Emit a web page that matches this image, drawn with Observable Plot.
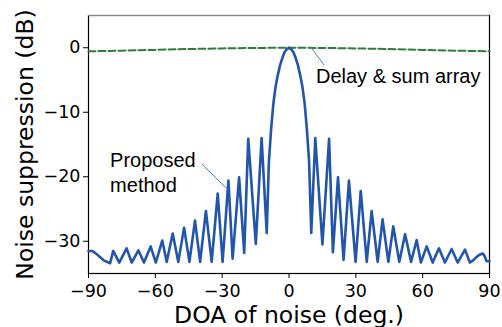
<!DOCTYPE html>
<html><head><meta charset="utf-8">
<script src="https://cdn.jsdelivr.net/npm/d3@7"></script>
<script src="https://cdn.jsdelivr.net/npm/@observablehq/plot@0.6"></script>
<style>body{margin:0;background:#fff;} svg{display:block;}</style>
</head><body><div id="chart"></div>
<script>
// Proposed method: DOA (deg) and suppression (dB)
const proposedDeg = [-90, -88.5, -87, -85, -83, -81, -80.3, -78.9, -76.2, -72.9, -70.6, -67.6, -65.1, -62.1, -59.8,
  -56.9, -54.9, -52.2, -49.7, -47.1, -44.7, -42.2, -39.9, -37.3, -34.7, -32.0, -29.8, -27.2, -25.3, -22.4,
  -20.1, -18.3, -14.9, -12.3, -10.0, -9, -8, -7, -6, -5, -4, -3, -2, -1, 0,
  1, 2, 3, 4, 5, 6, 7, 8, 9, 10, 11.8, 15.0, 18.0, 19.7, 22.0, 24.5, 26.9, 29.9, 32.2, 34.9, 37.1, 39.8,
  42.0, 44.6, 46.8, 49.5, 52.1, 54.8, 57.3, 59.2, 61.8, 64.5, 67.3, 70.0, 73.0, 75.7, 79.0, 81.2,
  82.5, 84, 85.5, 87, 87.8, 88.7, 90];
const proposedDb = [-31.5, -31.5, -31.8, -32.4, -33.0, -33.3, -33.4, -31.5, -33.3, -31.1, -33.3, -31.4, -33.3, -30.8, -33.3,
  -29.9, -33.2, -28.8, -33.2, -27.9, -33.2, -26.8, -33.2, -25.3, -33.2, -22.6, -33.2, -20.6, -32.7, -20.1,
  -31.8, -14.1, -30.4, -14.0, -28.7, -17.5, -12.5, -8.6, -6.0, -4.2, -2.7, -1.6, -0.7, -0.2, 0,
  -0.2, -0.7, -1.6, -2.7, -4.2, -6.0, -8.6, -12.5, -17.5, -28.7, -14.0, -30.5, -14.1, -31.7, -20.1, -32.9, -20.6, -33.2, -22.2, -33.2, -25.3, -33.2,
  -26.6, -33.2, -27.7, -33.2, -28.9, -33.2, -29.8, -33.3, -30.8, -33.3, -31.1, -33.3, -31.2, -33.3, -31.3, -33.3,
  -33.0, -32.5, -32.1, -31.9, -32.3, -33.1, -33.1];

// Delay & sum array
const delaySumDeg = [-90, -75, -60, -45, -30, -15, 0, 15, 30, 45, 60, 75, 90];
const delaySumDb = [-0.55, -0.45, -0.33, -0.2, -0.1, -0.03, 0, -0.03, -0.1, -0.2, -0.33, -0.45, -0.55];

// Ticks and labels
const xTicks = [-90, -60, -30, 0, 30, 60, 90];
const xTickLabels = ["−90", "−60", "−30", "0", "30", "60", "90"];
const yTicks = [0, -10, -20, -30];
const yTickLabels = ["0", "−10", "−20", "−30"];
const xLabel = "DOA of noise (deg.)";
const yLabel = "Noise suppression (dB)";

// Annotations (data coordinates)
const annoText = ["Delay & sum array", "Proposed", "method"];
const annoX = [12.1, -80.3, -80.3];
const annoY = [-5.4, -18.5, -22.4];
const leaderX1 = [10.2, -39.2];
const leaderY1 = [-0.1, -18.0];
const leaderX2 = [15.8, -28.0];
const leaderY2 = [-2.7, -21.8];

const proposed = proposedDeg.map((d, i) => ({deg: d, db: proposedDb[i]}));
const delaySum = delaySumDeg.map((d, i) => ({deg: d, db: delaySumDb[i]}));
const annos = annoText.map((t, i) => ({text: t, x: annoX[i], y: annoY[i]}));
const leaders = leaderX1.map((d, i) => ({x1: d, y1: leaderY1[i], x2: leaderX2[i], y2: leaderY2[i]}));
const xMap = new Map(xTicks.map((d, i) => [d, xTickLabels[i]]));
const yMap = new Map(yTicks.map((d, i) => [d, yTickLabels[i]]));

const chart = Plot.plot({
  width: 502, height: 327,
  marginLeft: 88, marginRight: 13, marginTop: 15, marginBottom: 54,
  x: {domain: [-90, 90]},
  y: {domain: [-35, 5]},
  style: {fontFamily: "DejaVu Sans", fontSize: "17.5px", background: "white", color: "black", overflow: "visible"},
  marks: [
    Plot.frame({stroke: "#000", strokeWidth: 1.2}),
    Plot.ruleY([5], {stroke: "#888", strokeWidth: 1.2}),
    Plot.axisX(xTicks, {tickSize: 5, tickPadding: 6, fontSize: 17.5, tickFormat: d => xMap.get(d), label: null}),
    Plot.axisY(yTicks, {tickSize: 5, tickPadding: 3, fontSize: 17.5, tickFormat: d => yMap.get(d), label: null}),
    Plot.line(delaySum, {x: "deg", y: "db", stroke: "#2e7d3c", strokeWidth: 2, strokeDasharray: "7,3"}),
    Plot.line(proposed, {x: "deg", y: "db", stroke: "#2256ac", strokeWidth: 2.6, strokeLinejoin: "round"}),
    Plot.link(leaders, {x1: "x1", y1: "y1", x2: "x2", y2: "y2", stroke: "#4a7cc4", strokeWidth: 1}),
    Plot.text(annos, {x: "x", y: "y", text: "text", textAnchor: "start", lineAnchor: "bottom",
      fontFamily: "Liberation Sans", fontSize: 20, fill: "black"}),
    Plot.text([xLabel], {text: d => d, frameAnchor: "bottom", textAnchor: "middle", dy: 49, lineAnchor: "bottom", fontSize: 23.5, fill: "black"}),
    Plot.text([yLabel], {text: d => d, frameAnchor: "left", textAnchor: "middle", rotate: -90, dx: -56, lineAnchor: "bottom", fontSize: 23.5, fill: "black"})
  ]
});
document.getElementById("chart").appendChild(chart);
</script>
</body></html>
